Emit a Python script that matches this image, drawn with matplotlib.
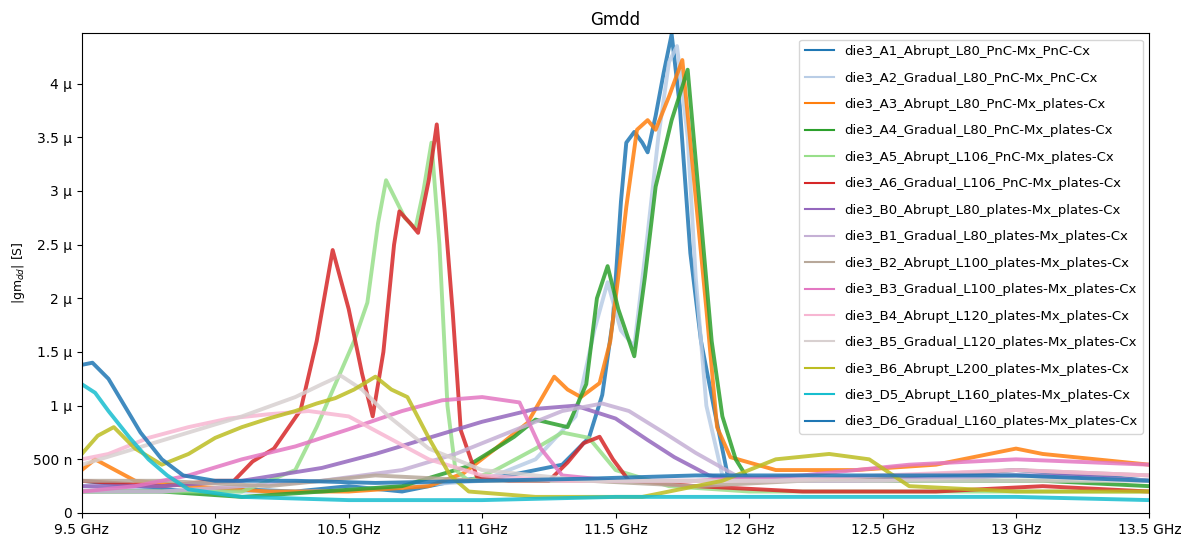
import matplotlib
matplotlib.use("Agg")
import matplotlib.pyplot as plt
from matplotlib.ticker import EngFormatter, MultipleLocator


# frequencies in GHz, |gm_dd| in micro-siemens
a1_f = [9.5, 9.7, 9.9, 10.1, 10.3, 10.5, 10.7, 10.9, 11.1, 11.3, 11.4, 11.45, 11.49, 11.52, 11.54, 11.57,
        11.6, 11.62, 11.65, 11.68, 11.71, 11.74, 11.78, 11.82, 11.87, 11.92, 12.1, 12.4, 12.7, 13.0, 13.3, 13.5]
a1_g = [0.3, 0.25, 0.2, 0.22, 0.2, 0.25, 0.2, 0.3, 0.35, 0.45, 0.7, 1.1, 1.8, 2.9, 3.45, 3.55,
        3.45, 3.36, 3.7, 4.1, 4.46, 3.8, 2.42, 1.6, 0.96, 0.35, 0.3, 0.3, 0.35, 0.4, 0.35, 0.3]

a2_f = [9.5, 9.8, 10.1, 10.4, 10.7, 11.0, 11.2, 11.35, 11.42, 11.47, 11.52, 11.57, 11.62, 11.66, 11.7,
        11.73, 11.77, 11.8, 11.84, 11.9, 12.2, 12.6, 13.0, 13.5]
a2_g = [0.25, 0.2, 0.2, 0.2, 0.25, 0.3, 0.5, 0.9, 1.7, 2.15, 1.7, 1.55, 2.6, 3.5, 4.2,
        4.35, 3.5, 2.2, 1.0, 0.35, 0.3, 0.3, 0.35, 0.3]

a3_f = [9.5, 9.55, 9.7, 9.9, 10.2, 10.5, 10.8, 10.93, 11.05, 11.17, 11.27, 11.32, 11.37, 11.44, 11.48,
        11.51, 11.54, 11.58, 11.62, 11.65, 11.7, 11.75, 11.79, 11.84, 11.88, 11.93, 12.1, 12.4, 12.7,
        12.9, 13.0, 13.1, 13.3, 13.5]
a3_g = [0.4, 0.5, 0.3, 0.25, 0.2, 0.2, 0.25, 0.37, 0.6, 0.84, 1.27, 1.15, 1.08, 1.21, 1.6,
        2.2, 2.85, 3.57, 3.66, 3.57, 3.88, 4.22, 3.2, 1.9, 0.8, 0.52, 0.4, 0.4, 0.45,
        0.55, 0.6, 0.55, 0.5, 0.45]

a4_f = [9.5, 9.8, 10.1, 10.4, 10.7, 10.94, 11.05, 11.12, 11.2, 11.32, 11.39, 11.43, 11.47, 11.51, 11.57,
        11.61, 11.65, 11.71, 11.77, 11.82, 11.86, 11.9, 11.95, 12.0, 12.3, 12.7, 13.1, 13.5]
a4_g = [0.2, 0.2, 0.15, 0.2, 0.25, 0.43, 0.6, 0.71, 0.87, 0.8, 1.2, 2.0, 2.3, 1.9, 1.46,
        2.2, 3.04, 3.66, 4.13, 2.73, 1.6, 0.9, 0.5, 0.3, 0.3, 0.3, 0.3, 0.25]

a5_f = [9.5, 9.8, 10.1, 10.3, 10.38, 10.45, 10.52, 10.57, 10.61, 10.64, 10.67, 10.71, 10.75, 10.78, 10.81,
        10.84, 10.87, 10.9, 10.95, 11.05, 11.2, 11.3, 11.4, 11.5, 11.7, 12.0, 12.5, 13.0, 13.5]
a5_g = [0.2, 0.2, 0.2, 0.4, 0.8, 1.2, 1.6, 1.96, 2.7, 3.1, 2.95, 2.75, 2.65, 3.0, 3.45,
        2.5, 1.0, 0.4, 0.3, 0.4, 0.6, 0.75, 0.7, 0.4, 0.25, 0.2, 0.2, 0.2, 0.2]

a6_f = [9.5, 9.8, 10.0, 10.07, 10.14, 10.22, 10.32, 10.38, 10.44, 10.5, 10.55, 10.59, 10.63, 10.67, 10.69,
        10.73, 10.76, 10.8, 10.83, 10.86, 10.89, 10.92, 10.98, 11.1, 11.25, 11.32, 11.38, 11.44, 11.49,
        11.55, 11.8, 12.2, 12.7, 13.1, 13.5]
a6_g = [0.3, 0.25, 0.3, 0.3, 0.48, 0.6, 0.96, 1.6, 2.45, 1.9, 1.3, 0.9, 1.5, 2.5, 2.81,
        2.7, 2.61, 3.1, 3.62, 2.8, 1.86, 0.77, 0.34, 0.3, 0.3, 0.47, 0.65, 0.71, 0.5,
        0.3, 0.25, 0.2, 0.2, 0.25, 0.2]

b0_f = [9.5, 9.8, 10.1, 10.4, 10.6, 10.8, 11.0, 11.2, 11.35, 11.5, 11.62, 11.72, 11.85, 12.0, 12.4, 12.8, 13.2, 13.5]
b0_g = [0.25, 0.25, 0.3, 0.42, 0.55, 0.7, 0.85, 0.97, 1.0, 0.88, 0.68, 0.52, 0.35, 0.3, 0.3, 0.35, 0.35, 0.3]

b1_f = [9.5, 9.8, 10.1, 10.4, 10.7, 10.9, 11.1, 11.3, 11.45, 11.55, 11.68, 11.8, 11.95, 12.1, 12.5, 13.0, 13.5]
b1_g = [0.2, 0.2, 0.25, 0.3, 0.4, 0.55, 0.75, 0.95, 1.02, 0.95, 0.75, 0.56, 0.35, 0.3, 0.3, 0.35, 0.3]

b2_f = [9.5, 9.8, 10.2, 10.6, 11.0, 11.4, 11.8, 12.2, 12.6, 13.0, 13.5]
b2_g = [0.3, 0.3, 0.25, 0.35, 0.3, 0.3, 0.25, 0.3, 0.35, 0.4, 0.35]

b3_f = [9.5, 9.7, 9.9, 10.1, 10.3, 10.5, 10.7, 10.85, 11.0, 11.14, 11.22, 11.3, 11.5, 11.8, 12.2, 12.6, 13.0, 13.5]
b3_g = [0.2, 0.25, 0.35, 0.5, 0.62, 0.78, 0.95, 1.05, 1.08, 1.03, 0.6, 0.35, 0.3, 0.3, 0.35, 0.45, 0.5, 0.45]

b4_f = [9.5, 9.6, 9.75, 9.9, 10.05, 10.2, 10.35, 10.5, 10.65, 10.8, 11.0, 11.3, 11.7, 12.1, 12.5, 13.0, 13.5]
b4_g = [0.5, 0.55, 0.7, 0.8, 0.88, 0.92, 0.95, 0.9, 0.7, 0.5, 0.35, 0.3, 0.3, 0.3, 0.35, 0.4, 0.35]

b5_f = [9.5, 9.7, 9.9, 10.1, 10.3, 10.4, 10.47, 10.55, 10.65, 10.8, 11.0, 11.4, 11.8, 12.2, 12.8, 13.5]
b5_g = [0.45, 0.6, 0.75, 0.9, 1.08, 1.2, 1.28, 1.15, 0.9, 0.6, 0.4, 0.3, 0.3, 0.3, 0.3, 0.3]

b6_f = [9.5, 9.56, 9.62, 9.7, 9.8, 9.9, 10.0, 10.1, 10.2, 10.3, 10.38, 10.45, 10.52, 10.6, 10.66,
        10.72, 10.8, 10.88, 10.95, 11.2, 11.6, 11.9, 12.1, 12.3, 12.45, 12.6, 13.0, 13.5]
b6_g = [0.55, 0.72, 0.8, 0.6, 0.45, 0.55, 0.7, 0.8, 0.88, 0.95, 1.02, 1.07, 1.15, 1.27, 1.15,
        1.08, 0.7, 0.35, 0.2, 0.15, 0.15, 0.3, 0.5, 0.55, 0.5, 0.25, 0.2, 0.2]

d5_f = [9.5, 9.55, 9.6, 9.68, 9.75, 9.82, 9.9, 10.1, 10.5, 11.0, 11.5, 12.0, 12.5, 13.0, 13.5]
d5_g = [1.2, 1.12, 0.95, 0.7, 0.5, 0.35, 0.22, 0.15, 0.12, 0.12, 0.15, 0.15, 0.15, 0.15, 0.12]

d6_f = [9.5, 9.54, 9.6, 9.66, 9.72, 9.8, 9.88, 10.0, 10.3, 10.6, 11.0, 11.4, 11.8, 12.2, 12.6, 13.0, 13.5]
d6_g = [1.38, 1.4, 1.25, 1.0, 0.75, 0.5, 0.35, 0.3, 0.3, 0.28, 0.3, 0.32, 0.35, 0.35, 0.35, 0.35, 0.3]

series = [
    ("die3_A1_Abrupt_L80_PnC-Mx_PnC-Cx", a1_f, a1_g, "#1f77b4"),
    ("die3_A2_Gradual_L80_PnC-Mx_PnC-Cx", a2_f, a2_g, "#b9cde6"),
    ("die3_A3_Abrupt_L80_PnC-Mx_plates-Cx", a3_f, a3_g, "#ff7f0e"),
    ("die3_A4_Gradual_L80_PnC-Mx_plates-Cx", a4_f, a4_g, "#2ca02c"),
    ("die3_A5_Abrupt_L106_PnC-Mx_plates-Cx", a5_f, a5_g, "#98df8a"),
    ("die3_A6_Gradual_L106_PnC-Mx_plates-Cx", a6_f, a6_g, "#d62728"),
    ("die3_B0_Abrupt_L80_plates-Mx_plates-Cx", b0_f, b0_g, "#9467bd"),
    ("die3_B1_Gradual_L80_plates-Mx_plates-Cx", b1_f, b1_g, "#c5b0d5"),
    ("die3_B2_Abrupt_L100_plates-Mx_plates-Cx", b2_f, b2_g, "#b8a89a"),
    ("die3_B3_Gradual_L100_plates-Mx_plates-Cx", b3_f, b3_g, "#e377c2"),
    ("die3_B4_Abrupt_L120_plates-Mx_plates-Cx", b4_f, b4_g, "#f7b6d2"),
    ("die3_B5_Gradual_L120_plates-Mx_plates-Cx", b5_f, b5_g, "#d8d0d0"),
    ("die3_B6_Abrupt_L200_plates-Mx_plates-Cx", b6_f, b6_g, "#bcbd22"),
    ("die3_D5_Abrupt_L160_plates-Mx_plates-Cx", d5_f, d5_g, "#17becf"),
    ("die3_D6_Gradual_L160_plates-Mx_plates-Cx", d6_f, d6_g, "#1f77b4"),
]


fig = plt.figure(figsize=(11.85, 5.44), dpi=100)
ax = fig.add_axes([0.069, 0.057, 0.901, 0.882])

for name, freqs, gm, color in series:
    ax.plot([f * 1e9 for f in freqs], [g * 1e-6 for g in gm], color=color, linewidth=2.8, alpha=0.85, label=name)

ax.set_xlim(9.5e9, 13.5e9)
ax.set_ylim(0, 4.47e-6)
ax.xaxis.set_major_locator(MultipleLocator(0.5e9))
ax.yaxis.set_major_locator(MultipleLocator(0.5e-6))
ax.xaxis.set_major_formatter(EngFormatter(unit="Hz"))
ax.yaxis.set_major_formatter(EngFormatter(unit=""))
ax.tick_params(labelsize=10)
ax.set_ylabel("|gm$_{dd}$| [S]", fontsize=9)
ax.set_title("Gmdd", fontsize=12)

leg = ax.legend(loc="upper right", fontsize=9.5, labelspacing=1.02, handlelength=2.2)
for line in leg.get_lines():
    line.set_linewidth(1.5)
    line.set_alpha(1.0)

fig.savefig("out.png", dpi=100)
